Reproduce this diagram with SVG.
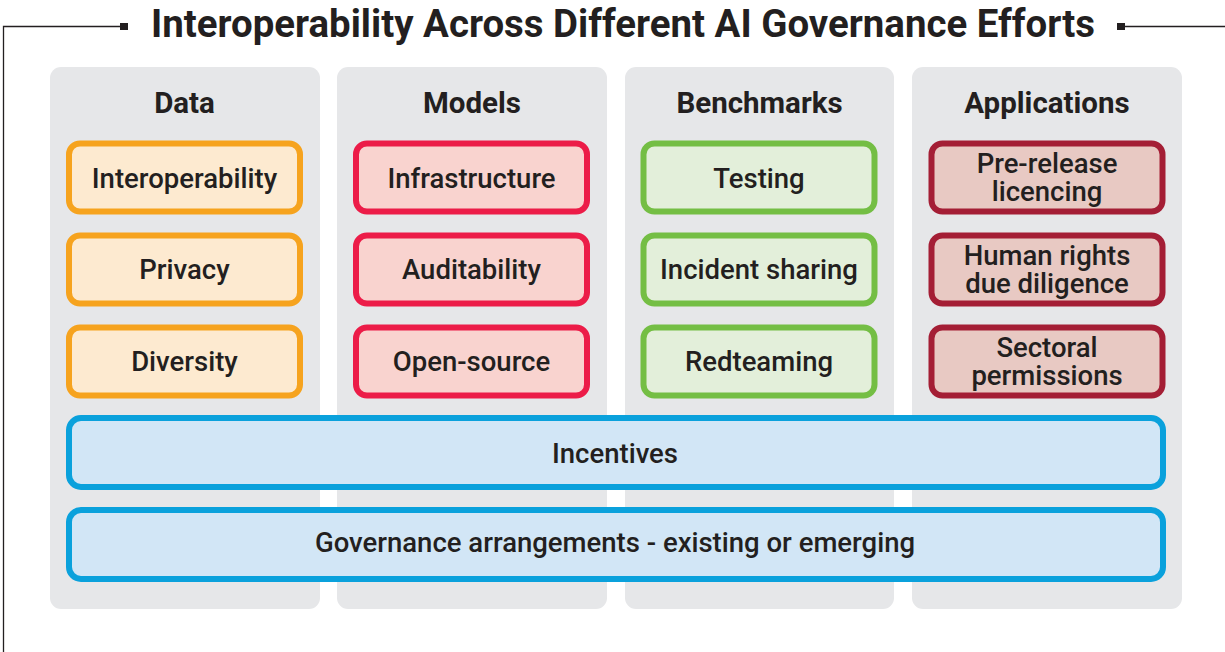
<svg xmlns="http://www.w3.org/2000/svg" width="1225" height="652" viewBox="0 0 1225 652">
<style>
.panel{fill:#E6E7E9}
.box{stroke-width:6}
.o{fill:#FDEAD0;stroke:#F6A31E}
.r{fill:#F9D3CF;stroke:#EC1C48}
.g{fill:#E3EFDA;stroke:#74BE44}
.d{fill:#E8C9C3;stroke:#A41E35}
.b{fill:#D2E6F6;stroke:#0AA1DC}
text{font-family:Roboto,"Liberation Sans",sans-serif;fill:#231F20;text-anchor:middle}
.h{font-size:29.5px;font-weight:700}
.t{font-size:27.5px;font-weight:500}
.title{font-size:38px;font-weight:700}
</style>
<g id="frame">
<polyline points="3.5,652 3.5,26.5 121,26.5" fill="none" stroke="#231F20" stroke-width="1.3"/>
<rect x="120" y="23" width="8" height="7" fill="#231F20"/>
<line x1="1118" y1="26.5" x2="1225" y2="26.5" stroke="#231F20" stroke-width="1.3"/>
<rect x="1117" y="23" width="8" height="7" fill="#231F20"/>
<text class="title" x="623" y="37" textLength="944" lengthAdjust="spacingAndGlyphs">Interoperability Across Different AI Governance Efforts</text>
</g>
<g id="panel-data"><rect class="panel" x="50" y="67" width="270" height="542" rx="11"/><text class="h" x="184.5" y="113">Data</text></g>
<g id="panel-models"><rect class="panel" x="337" y="67" width="270" height="542" rx="11"/><text class="h" x="472" y="113">Models</text></g>
<g id="panel-benchmarks"><rect class="panel" x="625" y="67" width="269" height="542" rx="11"/><text class="h" x="759.5" y="113">Benchmarks</text></g>
<g id="panel-applications"><rect class="panel" x="912" y="67" width="270" height="542" rx="11"/><text class="h" x="1047" y="113">Applications</text></g>

<g id="interoperability"><rect class="box o" x="69" y="143.5" width="231" height="68" rx="11"/><text class="t" x="184.5" y="187.5">Interoperability</text></g>
<g id="privacy"><rect class="box o" x="69" y="235.5" width="231" height="68" rx="11"/><text class="t" x="184.5" y="279">Privacy</text></g>
<g id="diversity"><rect class="box o" x="69" y="327.5" width="231" height="68" rx="11"/><text class="t" x="184.5" y="370.5">Diversity</text></g>

<g id="infrastructure"><rect class="box r" x="356" y="143.5" width="231" height="68" rx="11"/><text class="t" x="471.5" y="187.5">Infrastructure</text></g>
<g id="auditability"><rect class="box r" x="356" y="235.5" width="231" height="68" rx="11"/><text class="t" x="471.5" y="279">Auditability</text></g>
<g id="open-source"><rect class="box r" x="356" y="327.5" width="231" height="68" rx="11"/><text class="t" x="471.5" y="370.5">Open-source</text></g>

<g id="testing"><rect class="box g" x="643.5" y="143.5" width="231" height="68" rx="11"/><text class="t" x="759" y="187.5">Testing</text></g>
<g id="incident-sharing"><rect class="box g" x="643.5" y="235.5" width="231" height="68" rx="11"/><text class="t" x="759" y="279">Incident sharing</text></g>
<g id="redteaming"><rect class="box g" x="643.5" y="327.5" width="231" height="68" rx="11"/><text class="t" x="759" y="370.5">Redteaming</text></g>

<g id="pre-release"><rect class="box d" x="931.5" y="143.5" width="231" height="68" rx="11"/><text class="t" x="1047" y="173">Pre-release</text><text class="t" x="1047" y="201">licencing</text></g>
<g id="human-rights"><rect class="box d" x="931.5" y="235.5" width="231" height="68" rx="11"/><text class="t" x="1047" y="265">Human rights</text><text class="t" x="1047" y="293">due diligence</text></g>
<g id="sectoral"><rect class="box d" x="931.5" y="327.5" width="231" height="68" rx="11"/><text class="t" x="1047" y="357">Sectoral</text><text class="t" x="1047" y="385">permissions</text></g>

<g id="incentives"><rect class="box b" x="69" y="418" width="1094" height="69" rx="12"/><text class="t" x="615" y="463">Incentives</text></g>
<g id="governance"><rect class="box b" x="69" y="510" width="1094" height="69" rx="12"/><text class="t" x="615" y="552">Governance arrangements - existing or emerging</text></g>
<g id="connectors"></g>
</svg>
